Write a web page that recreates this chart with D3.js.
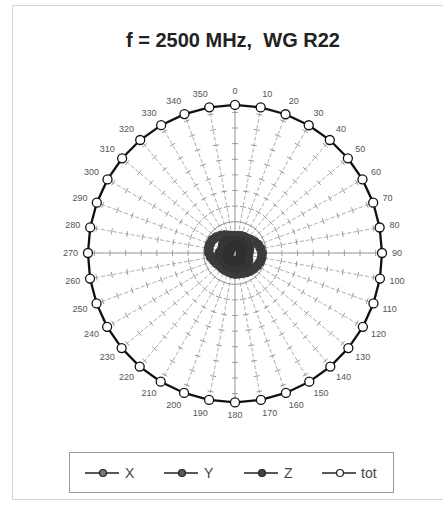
<!DOCTYPE html>
<html>
<head>
<meta charset="utf-8">
<script src="https://cdn.jsdelivr.net/npm/d3@7"></script>
<style>
  body { margin: 0; background: #fff; }
  text { font-family: "Liberation Sans", Arial, sans-serif; white-space: pre; }
</style>
</head>
<body>
<div id="chart"></div>
<script>
var angles = d3.range(0, 360, 10)

var serX = [1.09,1.12,1.16,1.19,1.22,1.32,1.44,1.57,1.67,1.73,1.73,1.70,1.64,1.57,1.51,1.44,1.38,1.35,
            1.35,1.32,1.28,1.28,1.28,1.28,1.35,1.44,1.57,1.67,1.70,1.70,1.67,1.57,1.44,1.32,1.19,1.12]
var serY = [0.75,0.78,0.80,0.82,0.85,0.90,0.95,0.95,0.92,0.88,0.75,0.90,0.98,1.05,1.10,1.05,1.00,0.98,
            0.95,0.92,0.90,0.90,0.88,0.88,0.92,1.00,1.05,1.00,0.90,0.75,0.90,0.98,0.95,0.90,0.82,0.78]
var serZ = [0.45,0.48,0.50,0.52,0.50,0.48,0.45,0.42,0.40,0.38,0.38,0.40,0.45,0.50,0.55,0.58,0.58,0.56,
            0.55,0.52,0.50,0.50,0.52,0.55,0.55,0.52,0.48,0.42,0.38,0.36,0.38,0.42,0.45,0.45,0.44,0.44]
var serTot = [9.48,9.46,9.45,9.44,9.44,9.43,9.42,9.41,9.40,9.41,9.42,9.43,9.45,9.47,9.49,9.51,9.53,9.55,
              9.56,9.55,9.53,9.51,9.49,9.47,9.45,9.43,9.42,9.41,9.41,9.41,9.42,9.43,9.44,9.45,9.46,9.47]

var seriesNames = ["X", "Y", "Z", "tot"]
var title = "f = 2500 MHz,  WG R22"

var width = 443, height = 506
var cx = 235, cy = 253, R = 150

var svg = d3.select("#chart").append("svg")
  .attr("width", width)
  .attr("height", height)

// outer frame
svg.append("rect")
  .attr("x", 12.5).attr("y", 5.5)
  .attr("width", 440).attr("height", 494)
  .attr("fill", "none")
  .attr("stroke", "#d4d4d4")

svg.append("text")
  .attr("x", 233).attr("y", 47)
  .attr("text-anchor", "middle")
  .attr("font-size", "20px")
  .attr("font-weight", "bold")
  .attr("fill", "#222")
  .text(title)

var r = d3.scaleLinear().domain([0, 9.6]).range([0, R])
var ang = d3.scaleLinear().domain([0, 360]).range([0, 2 * Math.PI])

var g = svg.append("g")
  .attr("transform", "translate(" + cx + "," + cy + ")")

// spokes
var spokes = g.append("g")
spokes.selectAll("line")
  .data(angles)
  .enter()
  .append("line")
  .attr("x1", 0).attr("y1", 0)
  .attr("x2", d => R * Math.sin(ang(d)))
  .attr("y2", d => -R * Math.cos(ang(d)))
  .attr("stroke", d => d % 90 == 0 ? "#777" : "#999")
  .attr("stroke-width", 0.8)
  .attr("stroke-dasharray", d => d % 90 == 0 ? null : "4,2")

// tick marks on every spoke
var tickVals = r.ticks(10).filter(v => v > 0)
var tickData = []
angles.forEach(a => tickVals.forEach(v => tickData.push({a: a, v: v})))
spokes.selectAll("path.tick")
  .data(tickData)
  .enter()
  .append("path")
  .attr("class", "tick")
  .attr("transform", d => "rotate(" + d.a + ") translate(0," + (-r(d.v)) + ")")
  .attr("d", "M-3,0H3")
  .attr("stroke", "#888")
  .attr("stroke-width", 0.8)

// angle labels
g.append("g").selectAll("text")
  .data(angles)
  .enter()
  .append("text")
  .attr("x", d => 157 * Math.sin(ang(d)))
  .attr("y", d => -157 * Math.cos(ang(d)))
  .attr("dy", d => (0.35 - 0.55 * Math.cos(ang(d))) + "em")
  .attr("text-anchor", d => {
    var s = Math.sin(ang(d))
    return s > 0.15 ? "start" : (s < -0.15 ? "end" : "middle")
  })
  .attr("font-size", "9px")
  .attr("fill", "#555")
  .text(d => d)

var styles = [
  {data: serX, fill: "#3c3c3c", line: "#2a2a2a"},
  {data: serY, fill: "#363636", line: "#2a2a2a"},
  {data: serZ, fill: "#303030", line: "#222"},
  {data: serTot, fill: "#fff", line: "#111"}
]

var radial = d3.lineRadial()
  .angle((d, i) => ang(angles[i]))
  .radius(d => r(d))
  .curve(d3.curveLinearClosed)

styles.forEach((s, k) => {
  var sg = g.append("g")
  sg.append("path")
    .attr("d", radial(s.data))
    .attr("fill", "none")
    .attr("stroke", s.line)
    .attr("stroke-width", k == 3 ? 2.3 : 2)
  sg.selectAll("circle")
    .data(s.data)
    .enter()
    .append("circle")
    .attr("cx", (d, i) => r(d) * Math.sin(ang(angles[i])))
    .attr("cy", (d, i) => -r(d) * Math.cos(ang(angles[i])))
    .attr("r", k == 3 ? 4.5 : 4.3)
    .attr("fill", s.fill)
    .attr("stroke", k == 3 ? s.line : s.fill)
    .attr("stroke-width", 1.3)
})

// legend
svg.append("rect")
  .attr("x", 69.5).attr("y", 452.5)
  .attr("width", 324).attr("height", 40)
  .attr("fill", "#fff")
  .attr("stroke", "#999")

var legFill = ["#777", "#5a5a5a", "#444", "#fff"]
var legX = [103, 182, 262, 340]
var leg = svg.append("g").selectAll("g")
  .data(seriesNames)
  .enter()
  .append("g")
  .attr("transform", (d, i) => "translate(" + legX[i] + ",473)")

leg.append("line")
  .attr("x1", -18).attr("x2", 16)
  .attr("stroke", "#222")
  .attr("stroke-width", 1.5)
leg.append("circle")
  .attr("r", 3.5)
  .attr("fill", (d, i) => legFill[i])
  .attr("stroke", "#222")
  .attr("stroke-width", 1.2)
leg.append("text")
  .attr("x", (d, i) => i == 3 ? 21 : 22)
  .attr("dy", "0.36em")
  .attr("font-size", "14px")
  .attr("fill", "#444")
  .text(d => d)
</script>
</body>
</html>
